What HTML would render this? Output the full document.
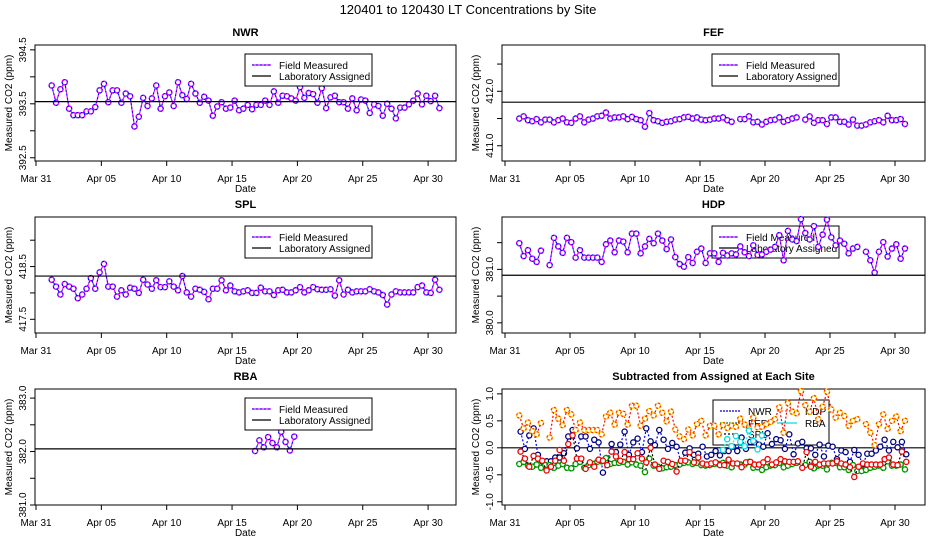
<!DOCTYPE html>
<html><head><meta charset="utf-8"><style>
body{margin:0;background:#fff;}
svg{display:block;font-family:"Liberation Sans",sans-serif;}
</style></head><body>
<svg id="chart" width="936" height="540" viewBox="0 0 936 540">
<text x="468" y="14" text-anchor="middle" font-size="13">120401  to  120430 LT Concentrations by Site</text>
</svg>
<script>
const tickDays = [0,5,10,15,20,25,30];
const xTickLabels = ["Mar 31","Apr 05","Apr 10","Apr 15","Apr 20","Apr 25","Apr 30"];
const startDay = 1.2;
const stepDay = 1/3;
const nwrValues = [393.84,393.52,393.77,393.90,393.41,393.29,393.29,393.29,393.36,393.36,393.44,393.75,393.87,393.53,393.75,393.75,393.52,393.69,393.64,393.08,393.26,393.61,393.46,393.60,393.84,393.41,393.64,393.71,393.46,393.90,393.66,393.59,393.87,393.69,393.52,393.63,393.56,393.28,393.45,393.53,393.41,393.43,393.56,393.38,393.41,393.48,393.40,393.48,393.48,393.56,393.48,393.73,393.52,393.65,393.64,393.60,393.56,393.81,393.61,393.70,393.68,393.52,393.79,393.42,393.62,393.65,393.53,393.53,393.41,393.60,393.38,393.58,393.56,393.33,393.49,393.46,393.28,393.50,393.41,393.23,393.43,393.43,393.49,393.56,393.69,393.49,393.65,393.55,393.65,393.42];
const fefValues = [411.50,411.54,411.47,411.45,411.49,411.43,411.48,411.48,411.43,411.47,411.50,411.43,411.42,411.50,411.54,411.43,411.48,411.50,411.54,411.55,411.61,411.50,411.52,411.52,411.54,411.49,411.53,411.49,411.47,411.35,411.60,411.47,411.45,411.42,411.44,411.45,411.48,411.49,411.52,411.53,411.50,411.52,411.48,411.47,411.48,411.50,411.50,411.52,411.47,411.44,null,411.49,411.49,411.54,411.43,411.44,411.39,411.44,411.47,411.48,411.52,411.44,411.47,411.50,411.52,null,411.48,411.54,411.42,411.47,411.47,411.40,411.52,411.52,411.44,411.44,411.39,411.48,411.37,411.37,411.39,411.43,411.45,411.47,411.43,411.55,411.47,411.47,411.49,411.40];
const splValues = [418.25,418.12,417.97,418.17,418.12,418.08,417.90,417.97,418.08,418.28,418.08,418.39,418.55,418.12,418.12,417.93,418.05,417.97,418.10,418.08,418.00,418.25,418.16,418.08,418.24,418.11,418.11,418.22,418.12,418.05,418.32,418.01,417.93,418.08,418.06,418.02,417.88,418.08,418.08,418.24,418.05,418.14,418.03,418.01,418.03,418.05,418.00,418.00,418.10,418.03,418.03,417.96,418.05,418.06,418.01,418.01,418.05,418.11,418.01,418.05,418.11,418.07,418.06,418.06,418.07,417.95,418.24,417.97,418.06,418.01,418.03,418.03,418.03,418.07,418.03,418.01,417.96,417.78,417.97,418.03,418.01,418.01,418.01,418.01,418.11,418.14,418.01,418.00,418.25,418.06];
const hdpValues = [381.49,381.25,381.36,381.20,381.14,381.35,null,381.08,381.59,381.43,381.31,381.59,381.51,381.22,381.36,381.22,381.22,381.22,381.22,381.14,381.47,381.54,381.32,381.54,381.52,381.32,381.67,381.67,381.30,381.43,381.57,381.49,381.67,381.54,381.38,381.56,381.23,381.10,381.05,381.23,381.12,381.33,381.39,381.12,381.30,381.30,381.14,381.31,381.26,381.30,381.28,381.43,381.32,381.25,381.45,381.27,381.28,381.33,381.37,381.42,381.64,381.17,381.72,381.56,381.53,381.94,381.68,381.56,381.81,381.42,381.65,381.93,381.60,381.45,381.54,381.48,381.30,381.39,381.42,null,381.33,381.17,380.94,381.33,381.51,381.24,381.39,381.47,381.20,381.39];
const rbaStartDay = 16.76;
const rbaValues = [382.01,382.21,382.08,382.27,382.16,382.08,382.37,382.18,382.02,382.28];
const assignedValues = [393.54,411.80,418.32,380.89,382.05];
const nwrTicks = [394.5,394.0,393.5,393.0,392.5];
const nwrTickLabels = ["394.5","","393.5","","392.5"];
const fefTicks = [412.5,412.0,411.5,411.0];
const fefTickLabels = ["","412.0","","411.0"];
const splTicks = [419.0,418.5,418.0,417.5];
const splTickLabels = ["","418.5","","417.5"];
const hdpTicks = [381.5,381.0,380.5,380.0];
const hdpTickLabels = ["","381.0","","380.0"];
const rbaTicks = [383.0,382.5,382.0,381.5,381.0];
const rbaTickLabels = ["383.0","","382.0","","381.0"];
const diffTicks = [1.0,0.5,0.0,-0.5,-1.0];
const diffTickLabels = ["1.0","0.5","0.0","-0.5","-1.0"];

const NS = "http://www.w3.org/2000/svg";
const svg = document.getElementById('chart');
function mk(tag, attrs, parent, text){
  const e = document.createElementNS(NS, tag);
  for (const k in attrs) e.setAttribute(k, attrs[k]);
  if (text !== undefined) e.textContent = text;
  (parent || svg).appendChild(e);
  return e;
}
const L = {bx:35, bw:421, x0:36, ppd:13.07};
const R = {bx:502, bw:423, x0:505, ppd:13.0};

function makePanel(name, col, by, ymin, ymax, yTicks, yLabels, titleText){
  const bh = 116;
  const g = mk('g', {});
  
  
  const p = {g, col, by, bh, ymin, ymax};
  p.xs = d => col.x0 + d * col.ppd;
  p.ys = v => by + bh - (v - ymin) / (ymax - ymin) * bh;
  const t = mk('text', {x: col.bx + col.bw/2, y: by - 9, 'text-anchor':'middle', 'font-size':'11', 'font-weight':'bold'}, g, titleText);
  
  
  const box = mk('rect', {x: col.bx, y: by, width: col.bw, height: bh, fill:'none', stroke:'#000', 'stroke-width':'1'}, g);
  
  
  const xa = mk('g', {}, g);
  
  
  mk('line', {x1: p.xs(tickDays[0]), x2: p.xs(tickDays[tickDays.length-1]), y1: by+bh, y2: by+bh, stroke:'#000'}, xa);
  tickDays.forEach((d, i) => {
    mk('line', {x1: p.xs(d), x2: p.xs(d), y1: by+bh, y2: by+bh+5, stroke:'#000'}, xa);
    const tl = mk('text', {x: p.xs(d), y: by+bh+21, 'text-anchor':'middle', 'font-size':'10'}, xa, xTickLabels[i]);
    
    
  });
  const xt = mk('text', {x: col.bx + col.bw/2, y: by+bh+31, 'text-anchor':'middle', 'font-size':'10'}, g, 'Date');
  
  
  const ya = mk('g', {}, g);
  
  
  mk('line', {x1: col.bx, x2: col.bx, y1: p.ys(yTicks[0]), y2: p.ys(yTicks[yTicks.length-1]), stroke:'#000'}, ya);
  yTicks.forEach((v, i) => {
    const y = p.ys(v);
    mk('line', {x1: col.bx-5, x2: col.bx, y1: y, y2: y, stroke:'#000'}, ya);
    if (yLabels[i]) {
      const tx = col.bx - 9;
      const tl = mk('text', {x: tx, y: y, 'text-anchor':'middle', 'font-size':'10', transform:`rotate(-90 ${tx} ${y})`}, ya, yLabels[i]);
      
      
    }
  });
  const yx = col.bx - 23, yy = by + bh/2;
  const yt = mk('text', {x: yx, y: yy, 'text-anchor':'middle', 'font-size':'10', transform:`rotate(-90 ${yx} ${yy})`}, g, 'Measured CO2 (ppm)');
  
  
  return p;
}

function drawSeries(p, values, d0, lineA, lineB, ptStroke, ptStroke2, name){
  const sg = mk('g', {}, p.g);
  
  
  let seg = [];
  const segs = [];
  values.forEach((v, i) => {
    if (v === null) { if (seg.length) segs.push(seg); seg = []; return; }
    seg.push([p.xs(d0 + i*stepDay), p.ys(v)]);
  });
  if (seg.length) segs.push(seg);
  segs.forEach(s => {
    const pts = s.map(q => q[0].toFixed(1)+','+q[1].toFixed(1)).join(' ');
    const l1 = mk('polyline', {points: pts, fill:'none', stroke: lineA, 'stroke-width':'1.2', 'stroke-dasharray':'2,2'}, sg);
    
    
    if (lineB) mk('polyline', {points: pts, fill:'none', stroke: lineB, 'stroke-width':'1.2', 'stroke-dasharray':'2,2', 'stroke-dashoffset':'2'}, sg);
  });
  values.forEach((v, i) => {
    if (v === null) return;
    const cx = p.xs(d0 + i*stepDay), cy = p.ys(v);
    const c = mk('circle', {cx: cx, cy: cy, r: 2.6, fill:'#fff', stroke: ptStroke, 'stroke-width':'1.3'}, sg);
    
    
    if (ptStroke2) mk('circle', {cx: cx, cy: cy, r: 2.6, fill:'none', stroke: ptStroke2, 'stroke-width':'1.3', 'stroke-dasharray':'2,2'}, sg);
  });
}

function drawAssigned(p, v, name){
  const l = mk('line', {x1: p.col.bx, x2: p.col.bx + p.col.bw, y1: p.ys(v), y2: p.ys(v), stroke:'#000', 'stroke-width':'1.2'}, p.g);
  
  
}

function drawLegend(p, name){
  const lx = p.col.bx + 210, ly = p.by + 9;
  const lg = mk('g', {}, p.g);
  
  
  mk('rect', {x: lx, y: ly, width: 127, height: 32, fill:'#fff', stroke:'#000'}, lg);
  mk('line', {x1: lx+7, x2: lx+26, y1: ly+11, y2: ly+11, stroke:'#0000ff', 'stroke-width':'1.2', 'stroke-dasharray':'2,2'}, lg);
  mk('line', {x1: lx+7, x2: lx+26, y1: ly+11, y2: ly+11, stroke:'#ff00ff', 'stroke-width':'1.2', 'stroke-dasharray':'2,2', 'stroke-dashoffset':'2'}, lg);
  const e1 = mk('text', {x: lx+34, y: ly+15, 'font-size':'10'}, lg, 'Field Measured');
  
  
  mk('line', {x1: lx+7, x2: lx+26, y1: ly+22, y2: ly+22, stroke:'#000', 'stroke-width':'1.2'}, lg);
  const e2 = mk('text', {x: lx+34, y: ly+26, 'font-size':'10'}, lg, 'Laboratory Assigned');
  
  
}

const sites = [
  {name:'nwr', title:'NWR', col:L, by:45, ymin:392.44, ymax:394.59, ticks:nwrTicks, labels:nwrTickLabels, values:nwrValues, d0:startDay, a:assignedValues[0], legendOnTop:true},
  {name:'fef', title:'FEF', col:R, by:45, ymin:410.72, ymax:412.85, ticks:fefTicks, labels:fefTickLabels, values:fefValues, d0:1.1, a:assignedValues[1], legendOnTop:true},
  {name:'spl', title:'SPL', col:L, by:217, ymin:417.24, ymax:419.44, ticks:splTicks, labels:splTickLabels, values:splValues, d0:startDay, a:assignedValues[2], legendOnTop:true},
  {name:'hdp', title:'HDP', col:R, by:217, ymin:379.81, ymax:381.98, ticks:hdpTicks, labels:hdpTickLabels, values:hdpValues, d0:1.1, a:assignedValues[3], legendOnTop:false},
  {name:'rba', title:'RBA', col:L, by:389, ymin:381.0, ymax:383.17, ticks:rbaTicks, labels:rbaTickLabels, values:rbaValues, d0:rbaStartDay, a:assignedValues[4], legendOnTop:true}
];
sites.forEach(s => {
  const p = makePanel(s.name, s.col, s.by, s.ymin, s.ymax, s.ticks, s.labels, s.title);
  s.panel = p;
  if (!s.legendOnTop) drawLegend(p, s.name);
  drawSeries(p, s.values, s.d0, '#0000ff', '#ff00ff', '#0000ff', '#ff00ff', s.name + '-field-series');
  drawAssigned(p, s.a, s.name);
  if (s.legendOnTop) drawLegend(p, s.name);
});

const dp = makePanel('difference', R, 389, -1.06, 1.09, diffTicks, diffTickLabels, 'Subtracted from Assigned at Each Site');
const dz = mk('line', {x1: R.bx, x2: R.bx+R.bw, y1: dp.ys(0), y2: dp.ys(0), stroke:'#000', 'stroke-width':'1.2'}, dp.g);


(function(){
  const lx = 713, ly = 400;
  const lg = mk('g', {}, dp.g);
  
  
  mk('rect', {x: lx, y: ly, width: 116, height: 45, fill:'#fff', stroke:'#000'}, lg);
  const entries = [
    ['NWR', 7, 11, '#0000cc', '2,1'], ['FEF', 7, 23, '#008800', '2,1'], ['SPL', 7, 34, '#000', '2,2'],
    ['HDP', 64, 11, '#ff6600', '2,2'], ['RBA', 64, 23, '#00dddd', '']
  ];
  entries.forEach(e => {
    mk('line', {x1: lx+e[1], x2: lx+e[1]+20, y1: ly+e[2], y2: ly+e[2], stroke: e[3], 'stroke-width':'1.3', 'stroke-dasharray': e[4] || 'none'}, lg);
    const t = mk('text', {x: lx+e[1]+28, y: ly+e[2]+4, 'font-size':'10'}, lg, e[0]);
    
    
  });
})();
const diffStyles = [
  ['#0000ff', null, '#000080', null],
  ['#000000', null, '#00aa00', '#008800'],
  ['#000000', null, '#ee0000', null],
  ['#ff0000', null, '#ffd700', '#ff3300'],
  ['#00ffff', null, '#00e0e0', null]
];
sites.forEach((s, k) => {
  const diff = s.values.map(v => v === null ? null : v - s.a);
  const st = diffStyles[k];
  drawSeries(dp, diff, s.d0, st[0], st[1], st[2], st[3], s.name + '-difference-series');
});
</script>
</body></html>
